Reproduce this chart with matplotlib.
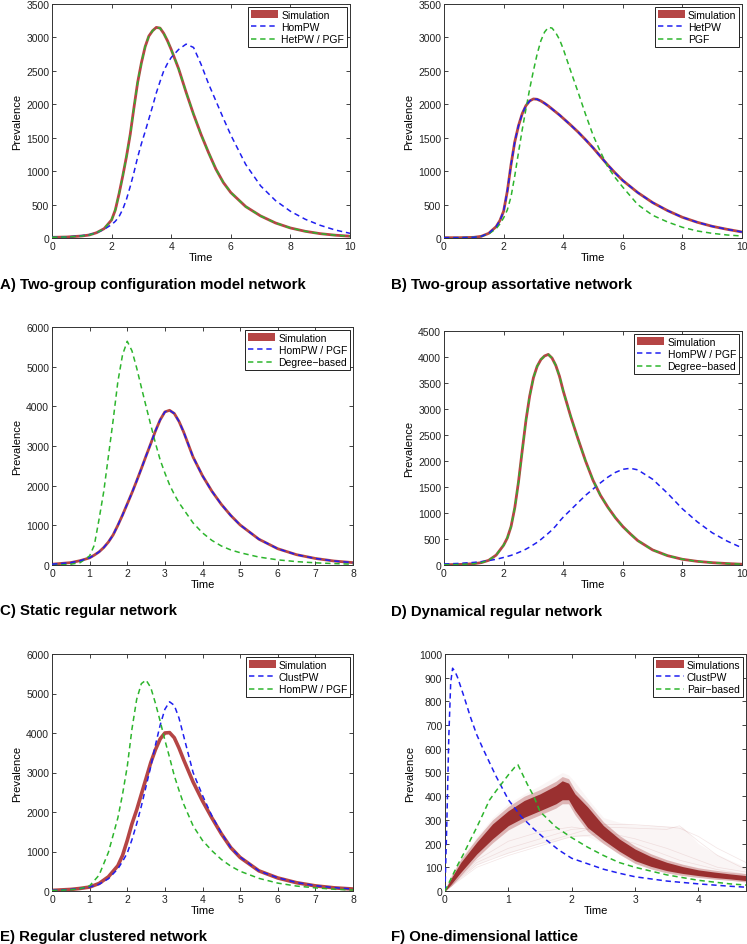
import matplotlib
matplotlib.use("Agg")
import matplotlib.pyplot as plt
from matplotlib.patches import Patch
from matplotlib.lines import Line2D

plt.rcParams['font.family'] = ['Liberation Sans', 'DejaVu Sans']

SIM_COLOR = '#b54545'
BLUE = '#1f1ff0'
GREEN = '#2db52d'

# ---- panel A: two-group configuration model network ----
t_a = [0, 0.5, 1, 1.25, 1.5, 1.75, 2, 2.125, 2.25, 2.375, 2.5, 2.625, 2.75, 2.875, 3,
       3.125, 3.25, 3.375, 3.5, 3.625, 3.75, 3.875, 4, 4.25, 4.5, 4.75, 5, 5.25, 5.5,
       5.75, 6, 6.5, 7, 7.5, 8, 8.5, 9, 9.5, 10]
sim_a = [10, 15, 30, 45, 80, 140, 270, 420, 660, 930, 1220, 1550, 1950, 2330, 2620, 2860,
         3020, 3100, 3150, 3140, 3060, 2950, 2820, 2530, 2180, 1850, 1550, 1280, 1030, 830,
         680, 470, 330, 225, 150, 100, 65, 42, 27]
hompw_a = [10, 15, 35, 50, 80, 130, 200, 250, 320, 430, 580, 770, 980, 1210, 1410, 1590,
           1780, 1970, 2170, 2340, 2500, 2610, 2700, 2820, 2900, 2850, 2600, 2310, 2050, 1790,
           1540, 1100, 780, 560, 400, 280, 190, 120, 70]
hetpw_a = sim_a

# ---- panel B: two-group assortative network ----
t_b = [0, 0.5, 1, 1.25, 1.5, 1.75, 1.875, 2, 2.125, 2.25, 2.375, 2.5, 2.625, 2.75, 2.875,
       3, 3.125, 3.25, 3.375, 3.5, 3.625, 3.75, 3.875, 4, 4.25, 4.5, 4.75, 5, 5.25, 5.5,
       5.75, 6, 6.5, 7, 7.5, 8, 8.5, 9, 9.5, 10]
sim_b = [5, 5, 10, 25, 70, 170, 260, 400, 700, 1100, 1440, 1680, 1860, 1980, 2050, 2080,
         2075, 2050, 2015, 1975, 1930, 1885, 1840, 1790, 1690, 1585, 1470, 1350, 1220, 1090,
         970, 860, 680, 530, 410, 310, 235, 175, 130, 90]
hetpw_b = sim_b
pgf_b = [5, 5, 10, 25, 60, 140, 210, 300, 420, 620, 930, 1280, 1620, 1930, 2230, 2500,
         2750, 2950, 3080, 3150, 3140, 3070, 2970, 2830, 2500, 2180, 1850, 1540, 1290, 1060,
         900, 760, 500, 340, 240, 160, 105, 70, 45, 30]

# ---- panel C: static regular network ----
t_c = [0, 0.5, 0.75, 1, 1.125, 1.25, 1.375, 1.5, 1.625, 1.75, 1.875, 2, 2.125, 2.25, 2.375,
       2.5, 2.625, 2.75, 2.875, 3, 3.125, 3.25, 3.375, 3.5, 3.75, 4, 4.25, 4.5, 4.75, 5,
       5.5, 6, 6.5, 7, 7.5, 8]
sim_c = [20, 60, 110, 180, 250, 330, 440, 580, 760, 1000, 1260, 1540, 1820, 2120, 2430,
         2750, 3060, 3380, 3660, 3860, 3900, 3820, 3620, 3350, 2720, 2250, 1860, 1530, 1250,
         1010, 650, 410, 260, 165, 100, 60]
hompw_c = sim_c
degree_c = [5, 20, 60, 230, 500, 1150, 1850, 2750, 3650, 4620, 5300, 5640, 5400, 4970,
            4480, 4000, 3530, 3070, 2650, 2320, 2020, 1780, 1570, 1400, 1060, 810, 620, 480,
            380, 310, 200, 130, 85, 55, 35, 20]

# ---- panel D: dynamical regular network ----
t_d = [0, 0.5, 1, 1.25, 1.5, 1.75, 2, 2.125, 2.25, 2.375, 2.5, 2.625, 2.75, 2.875, 3,
       3.125, 3.25, 3.375, 3.5, 3.625, 3.75, 3.875, 4, 4.25, 4.5, 4.75, 5, 5.25, 5.5, 5.75,
       6, 6.25, 6.5, 7, 7.5, 8, 8.5, 9, 9.5, 10]
sim_d = [5, 10, 25, 45, 90, 190, 380, 520, 740, 1100, 1600, 2200, 2780, 3250, 3600, 3820,
         3950, 4020, 4050, 3980, 3840, 3630, 3350, 2860, 2420, 2000, 1630, 1340, 1110, 910,
         740, 600, 470, 290, 180, 110, 70, 45, 28, 15]
degree_d = sim_d
hompw_d = [20, 30, 50, 65, 85, 110, 145, 165, 185, 210, 240, 270, 305, 345, 390, 435, 490,
           550, 610, 675, 750, 840, 920, 1060, 1200, 1340, 1460, 1580, 1690, 1780, 1840,
           1860, 1830, 1650, 1380, 1080, 830, 620, 460, 330]

# ---- panel E: regular clustered network ----
t_e = [0, 0.5, 0.75, 1, 1.25, 1.5, 1.75, 1.875, 2, 2.125, 2.25, 2.375, 2.5, 2.625, 2.75,
       2.875, 3, 3.125, 3.25, 3.375, 3.5, 3.75, 4, 4.25, 4.5, 4.75, 5, 5.5, 6, 6.5, 7,
       7.5, 8]
sim_e = [15, 40, 65, 100, 190, 360, 640, 900, 1280, 1700, 2050, 2450, 2850, 3250, 3580,
         3850, 4000, 4010, 3880, 3620, 3320, 2760, 2280, 1850, 1450, 1100, 850, 510, 330,
         210, 130, 80, 50]
clustpw_e = [15, 40, 65, 100, 170, 310, 560, 750, 960, 1300, 1700, 2150, 2650, 3150, 3700,
             4200, 4600, 4790, 4700, 4380, 3920, 3000, 2420, 1900, 1470, 1100, 860, 510,
             335, 215, 135, 85, 50]
hompw_e = [10, 30, 60, 130, 400, 980, 1850, 2450, 3150, 4100, 4850, 5250, 5340, 5150, 4750,
           4300, 3820, 3380, 2920, 2550, 2200, 1650, 1280, 1020, 800, 630, 500, 320, 200,
           125, 80, 45, 25]

# ---- panel F: one-dimensional lattice ----
t_f_clust = [0, 0.03, 0.06, 0.09, 0.12, 0.16, 0.2, 0.3, 0.4, 0.5, 0.6, 0.8, 1.0, 1.2, 1.4,
             1.6, 1.8, 2.0, 2.25, 2.5, 2.75, 3.0, 3.5, 4.0, 4.5, 4.75]
clustpw_f = [0, 300, 650, 880, 940, 925, 900, 820, 735, 660, 600, 487, 385, 315, 262, 215,
             172, 138, 115, 92, 75, 60, 42, 30, 20, 16]
t_f_pair = [0, 0.1, 0.2, 0.3, 0.4, 0.5, 0.6, 0.7, 0.8, 0.9, 1.0, 1.1, 1.15, 1.3, 1.4, 1.5,
            1.75, 2.0, 2.25, 2.5, 2.75, 3.0, 3.5, 4.0, 4.5, 4.75]
pair_f = [0, 55, 110, 160, 215, 268, 325, 383, 420, 455, 490, 522, 533, 450, 400, 335, 270,
          225, 185, 150, 120, 100, 68, 45, 30, 25]
t_f_sim = [0, 0.1, 0.25, 0.5, 0.75, 1.0, 1.25, 1.5, 1.75, 1.85, 1.95, 2.05, 2.25, 2.5,
           2.75, 3.0, 3.25, 3.5, 3.75, 4.0, 4.25, 4.5, 4.75]
core_lo = [0, 30, 79, 156, 220, 276, 311, 339, 368, 385, 385, 340, 268, 215, 168, 128, 104,
           86, 74, 65, 57, 51, 44]
core_hi = [5, 55, 121, 206, 283, 339, 382, 410, 445, 465, 455, 410, 355, 276, 220, 177, 145,
           121, 103, 89, 80, 72, 65]
halo_lo = [0, 22, 66, 140, 203, 258, 293, 321, 350, 368, 368, 322, 252, 200, 155, 116, 93,
           76, 65, 57, 50, 45, 38]
halo_hi = [8, 64, 134, 222, 300, 357, 400, 428, 463, 483, 474, 428, 372, 292, 235, 190, 157,
           132, 113, 98, 88, 80, 73]
env_lo = [0, 20, 60, 110, 140, 160, 180, 200, 210, 220, 225, 230, 230, 200, 160, 120, 100,
          80, 70, 60, 52, 45, 40]
env_hi = [10, 70, 140, 230, 310, 370, 410, 445, 485, 500, 490, 460, 390, 310, 290, 280,
          278, 275, 270, 200, 160, 130, 100]
# a few stray trajectories
t_stray = [0, 0.5, 1.0, 1.5, 2.0, 2.5, 3.0, 3.5, 3.7, 4.0, 4.3, 4.75]
stray_1 = [0, 120, 180, 220, 260, 270, 265, 260, 275, 210, 150, 90]
stray_2 = [0, 110, 160, 200, 240, 280, 280, 270, 265, 230, 180, 120]
stray_3 = [0, 100, 150, 190, 230, 240, 200, 150, 130, 110, 90, 70]
stray_4 = [0, 130, 210, 250, 270, 250, 220, 180, 160, 130, 100, 80]


def px_axes(fig, left, top, right, bottom):
    W, H = 747.0, 945.0
    return fig.add_axes([left / W, 1 - bottom / H, (right - left) / W, (bottom - top) / H])


def style_axes(ax, xlim, ylim, xticks, yticks):
    ax.set_xlim(xlim)
    ax.set_ylim(ylim)
    ax.set_xticks(xticks)
    ax.set_yticks(yticks)
    ax.tick_params(direction='in', top=True, right=True, length=3, width=0.6,
                   labelsize=7.5, pad=2, colors='#222222')
    for s in ax.spines.values():
        s.set_linewidth(0.7)
        s.set_color('#333333')
    ax.set_xlabel('Time', fontsize=8, labelpad=1)
    ax.set_ylabel('Prevalence', fontsize=8, labelpad=3)


def add_legend(ax, labels, sim_label='Simulation'):
    handles = [Patch(facecolor=SIM_COLOR, edgecolor='none'),
               Line2D([], [], color=BLUE, lw=1.1, dashes=(3.5, 2.5)),
               Line2D([], [], color=GREEN, lw=1.1, dashes=(3.5, 2.5))]
    leg = ax.legend(handles, [sim_label] + labels, loc='upper right', fontsize=7.5,
                    fancybox=False, framealpha=1, edgecolor='#222222',
                    borderpad=0.3, labelspacing=0.22, handlelength=2.6,
                    handletextpad=0.3, borderaxespad=0.25)
    leg.get_frame().set_linewidth(0.7)


def sim_line(ax, t, y):
    ax.plot(t, y, color=SIM_COLOR, lw=2.0, solid_capstyle='butt', solid_joinstyle='round',
            zorder=2)


def dash_line(ax, t, y, color):
    ax.plot(t, y, color=color, lw=1.1, dashes=(3.5, 2.5), zorder=3)


fig = plt.figure(figsize=(7.47, 9.45), dpi=100)

# A
ax = px_axes(fig, 52, 5, 350, 239)
sim_line(ax, t_a, sim_a)
dash_line(ax, t_a, hompw_a, BLUE)
dash_line(ax, t_a, hetpw_a, GREEN)
style_axes(ax, (0, 10), (0, 3500), range(0, 11, 2), range(0, 3501, 500))
add_legend(ax, ['HomPW', 'HetPW / PGF'])

# B
ax = px_axes(fig, 444, 5, 742, 239)
sim_line(ax, t_b, sim_b)
dash_line(ax, t_b, pgf_b, GREEN)
dash_line(ax, t_b, hetpw_b, BLUE)
style_axes(ax, (0, 10), (0, 3500), range(0, 11, 2), range(0, 3501, 500))
add_legend(ax, ['HetPW', 'PGF'])

# C
ax = px_axes(fig, 52, 328, 353, 566)
sim_line(ax, t_c, sim_c)
dash_line(ax, t_c, degree_c, GREEN)
dash_line(ax, t_c, hompw_c, BLUE)
style_axes(ax, (0, 8), (0, 6000), range(0, 9), range(0, 6001, 1000))
add_legend(ax, ['HomPW / PGF', 'Degree\u2212based'])

# D
ax = px_axes(fig, 444, 332, 742, 566)
sim_line(ax, t_d, sim_d)
dash_line(ax, t_d, hompw_d, BLUE)
dash_line(ax, t_d, degree_d, GREEN)
style_axes(ax, (0, 10), (0, 4500), range(0, 11, 2), range(0, 4501, 500))
add_legend(ax, ['HomPW / PGF', 'Degree\u2212based'])

# E
ax = px_axes(fig, 52, 655, 353, 892)
ax.plot(t_e, sim_e, color=SIM_COLOR, lw=2.6, solid_joinstyle='round', zorder=2)
dash_line(ax, t_e, clustpw_e, BLUE)
dash_line(ax, t_e, hompw_e, GREEN)
style_axes(ax, (0, 8), (0, 6000), range(0, 9), range(0, 6001, 1000))
add_legend(ax, ['ClustPW', 'HomPW / PGF'])

# F
ax = px_axes(fig, 445, 655, 746, 892)
ax.fill_between(t_f_sim, env_lo, env_hi, color='#c98a8a', alpha=0.08, lw=0, zorder=1)
for s in (stray_1, stray_2, stray_3, stray_4):
    ax.plot(t_stray, s, color='#c98a8a', lw=0.5, alpha=0.22, zorder=1)
ax.fill_between(t_f_sim, halo_lo, halo_hi, color='#a84040', alpha=0.35, lw=0, zorder=2)
ax.fill_between(t_f_sim, core_lo, core_hi, color='#9a3030', lw=0, zorder=2)
dash_line(ax, t_f_clust, clustpw_f, BLUE)
dash_line(ax, t_f_pair, pair_f, GREEN)
style_axes(ax, (0, 4.75), (0, 1000), range(0, 5), range(0, 1001, 100))
add_legend(ax, ['ClustPW', 'Pair\u2212based'], sim_label='Simulations')

# panel captions
captions = [(0, 285, 'A) Two-group configuration model network'),
            (391, 285, 'B) Two-group assortative network'),
            (0, 611, 'C) Static regular network'),
            (391, 612, 'D) Dynamical regular network'),
            (0, 937, 'E) Regular clustered network'),
            (391, 937, 'F) One-dimensional lattice')]
for x, y, txt in captions:
    fig.text(x / 747, 1 - y / 945, txt, fontsize=10.8, fontweight='bold',
             ha='left', va='center')

fig.savefig('out.png', dpi=100)
